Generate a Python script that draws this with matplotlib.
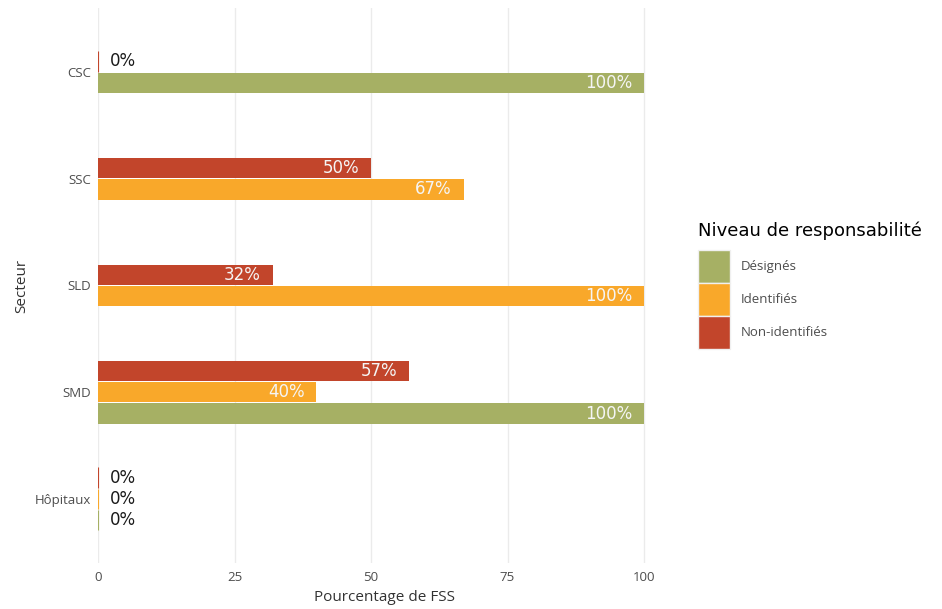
import matplotlib.pyplot as plt
from matplotlib.patches import Patch
import numpy as np

# data (None = no bar)
categories = ["Hôpitaux", "SMD", "SLD", "SSC", "CSC"]
series_names = ["Désignés", "Identifiés", "Non-identifiés"]
designes = [0, 100, None, None, 100]
identifies = [0, 40, 100, 67, None]
non_identifies = [0, 57, 32, 50, 0]
x_ticks = [0, 25, 50, 75, 100]

colors = ["#a6b064", "#f9a82a", "#c2452b"]
series = [designes, identifies, non_identifies]

plt.rcParams["font.family"] = ["Open Sans", "DejaVu Sans"]

fig = plt.figure(figsize=(9.42, 6.09), dpi=100)
# x range 0..105 (ggplot-style expansion on the right only)
ax = fig.add_axes([98 / 942, 46 / 609, 573.3 / 942, 555 / 609])

bar_h = 0.19
step = 0.2

for i, cat in enumerate(categories):
    present = [k for k in range(3) if series[k][i] is not None]
    n = len(present)
    for j, k in enumerate(present):
        val = series[k][i]
        y = (i + 1) + (j - (n - 1) / 2) * step
        ax.barh(y, val, height=bar_h, color=colors[k],
                edgecolor=colors[k], linewidth=0.8 if val == 0 else 0, zorder=2)
        if val == 0:
            ax.text(val + 2.2, y, f"{val}%", ha="left", va="center",
                    fontsize=12, color="#1a1a1a", family="DejaVu Sans", zorder=3)
        else:
            ax.text(val - 2.2, y, f"{val}%", ha="right", va="center",
                    fontsize=12, color="#f5f5f5", family="DejaVu Sans", zorder=3)

ax.set_xlim(0, 105)
ax.set_ylim(0.4, 5.6)
ax.set_xticks(x_ticks)
ax.set_xticklabels([str(t) for t in x_ticks])
ax.set_yticks(range(1, len(categories) + 1))
ax.set_yticklabels(categories)
ax.tick_params(axis="both", length=0, labelsize=9.5, labelcolor="#4d4d4d")
ax.tick_params(axis="x", pad=6)
ax.tick_params(axis="y", pad=5)

ax.grid(axis="x", color="#ebebeb", linewidth=1, zorder=0)
ax.grid(axis="y", visible=False)
ax.set_axisbelow(True)
for s in ax.spines.values():
    s.set_visible(False)

ax.set_xlabel("Pourcentage de FSS", fontsize=11, color="#333333", labelpad=4)
ax.set_ylabel("Secteur", fontsize=11, color="#333333", labelpad=4)

handles = [Patch(facecolor=c, edgecolor="#f0f0f0", linewidth=1) for c in colors]
leg = fig.legend(handles, series_names, loc="upper left",
                 bbox_to_anchor=(686 / 942, 1 - 210 / 609), frameon=False,
                 fontsize=9.5, title="Niveau de responsabilité",
                 handlelength=2.45, handleheight=3.45, labelspacing=0.0,
                 handletextpad=0.8, alignment="left")
leg._legend_box.sep = 7
leg.get_title().set_fontsize(13)
leg.get_title().set_family("DejaVu Sans")
for t in leg.get_texts():
    t.set_color("#4d4d4d")

fig.savefig("out.png", dpi=100)
